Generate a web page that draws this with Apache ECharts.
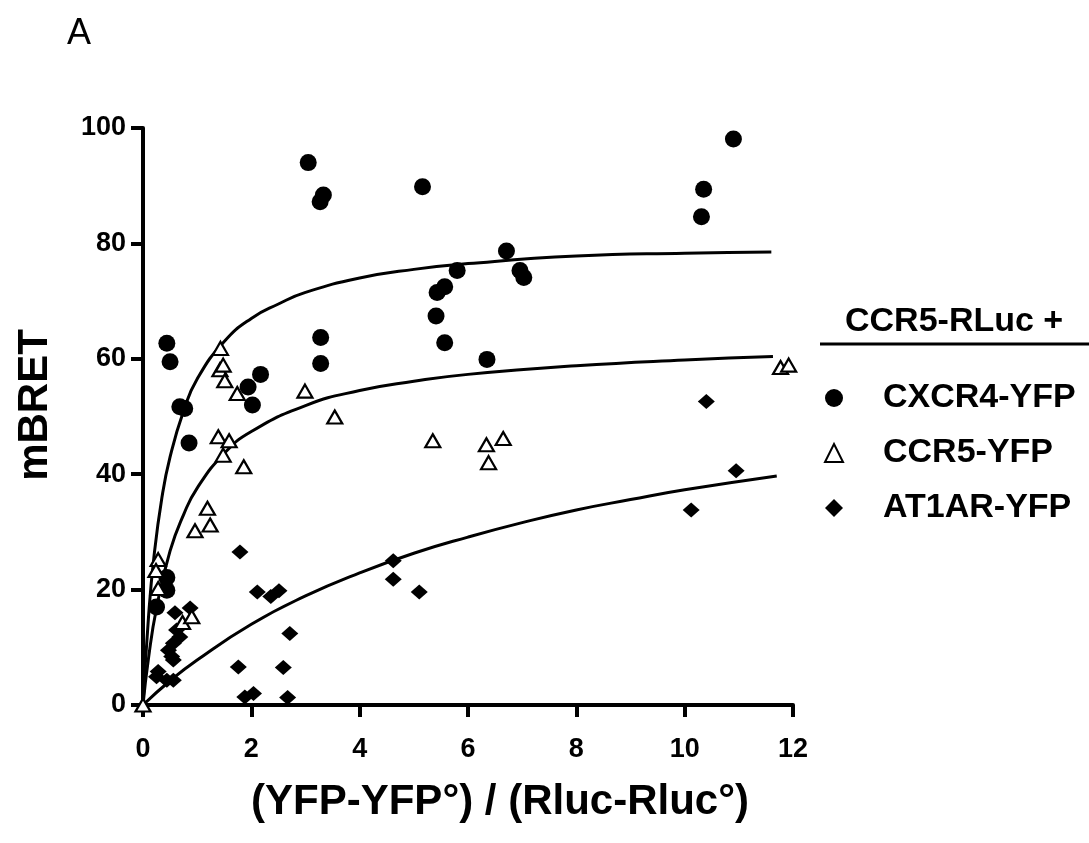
<!DOCTYPE html>
<html>
<head>
<meta charset="utf-8">
<title>BRET saturation</title>
<script src="https://cdn.jsdelivr.net/npm/echarts@6/dist/echarts.min.js"></script>
<style>
  html, body { margin: 0; padding: 0; background: #fff; }
  #chart { width: 1089px; height: 843px; }
</style>
</head>
<body>
<div id="chart"></div>
<script>
// 数据点 [x, mBRET]
const cxcr4Points = [
  [0.25, 17.0], [0.44, 19.9], [0.44, 22.1], [0.44, 62.7], [0.50, 59.5],
  [0.68, 51.7], [0.77, 51.4], [0.85, 45.4], [1.94, 55.1], [2.02, 52.0],
  [2.17, 57.3], [3.05, 94.0], [3.28, 63.7], [3.28, 59.2], [3.27, 87.2],
  [3.33, 88.4], [5.16, 89.8], [5.41, 67.4], [5.43, 71.5], [5.57, 72.5],
  [5.57, 62.8], [5.80, 75.3], [6.35, 59.9], [6.71, 78.7], [6.96, 75.3],
  [7.03, 74.1], [10.31, 84.6], [10.35, 89.4], [10.90, 98.1]
]
const ccr5Points = [
  [0, 0], [0.28, 25.2], [0.24, 23.3], [0.28, 20.2], [0.73, 14.3],
  [0.90, 15.3], [0.96, 30.2], [1.19, 34.1], [1.24, 31.2], [1.39, 46.5],
  [1.43, 61.8], [1.42, 58.1], [1.48, 58.9], [1.48, 43.3], [1.51, 56.2],
  [1.59, 45.8], [1.74, 54.0], [1.86, 41.3], [2.99, 54.4], [3.54, 49.9],
  [5.35, 45.8], [6.34, 45.1], [6.38, 42.0], [6.65, 46.2], [11.77, 58.5],
  [11.92, 58.9]
]
const at1arPoints = [
  [0.28, 5.8], [0.25, 4.9], [0.44, 4.3], [0.56, 4.3], [0.47, 9.5],
  [0.53, 8.4], [0.56, 7.8], [0.56, 10.7], [0.62, 13.0], [0.68, 11.8],
  [0.59, 16.0], [0.87, 16.8], [1.76, 6.6], [1.79, 26.5], [1.88, 1.4],
  [2.04, 2.0], [2.11, 19.6], [2.36, 18.8], [2.51, 19.8], [2.59, 6.5],
  [2.67, 1.3], [2.71, 12.4], [4.62, 25.0], [4.62, 21.8], [5.10, 19.6],
  [10.12, 33.8], [10.40, 52.6], [10.95, 40.6]
]

// 拟合曲线
const cxcr4Curve = [
  [0, 0], [0.1, 15], [0.2, 25.5], [0.35, 36], [0.5, 43], [0.75, 51],
  [1, 56.5], [1.5, 63], [2, 67], [2.5, 69.5], [3, 71.5], [4, 74],
  [5, 75.5], [6, 76.5], [8, 77.8], [10, 78.3], [11.6, 78.5]
]
const ccr5Curve = [
  [0, 0], [0.1, 8], [0.25, 16.8], [0.5, 26.7], [0.75, 33], [1, 37.6],
  [1.5, 43.6], [2, 47.4], [3, 51.9], [4, 54.5], [5, 56.1], [6, 57.3],
  [8, 58.8], [10, 59.8], [11.63, 60.4]
]
const at1arCurve = [
  [0, 0], [0.5, 4.2], [1, 7.8], [2, 14], [3, 18.9], [4, 22.9], [5, 26.3],
  [6, 29.1], [7, 31.6], [8, 33.8], [9, 35.6], [10, 37.3], [11.7, 39.7]
]

const seriesNames = ['CXCR4-YFP', 'CCR5-YFP', 'AT1AR-YFP']
const legendTitle = 'CCR5-RLuc +'
const xTitle = '(YFP-YFP°) / (Rluc-Rluc°)'
const yTitle = 'mBRET'

const FONT = '"Liberation Sans", Arial, sans-serif'

const chart = echarts.init(document.getElementById('chart'))

const curveSeries = (data) => ({
  type: 'line',
  data: data,
  smooth: true,
  showSymbol: false,
  silent: true,
  lineStyle: { color: '#000', width: 3 },
  z: 3
})

chart.setOption({
  animation: false,
  backgroundColor: '#fff',
  textStyle: { fontFamily: FONT, color: '#000' },
  title: {
    text: 'A',
    left: 62,
    top: 11,
    textStyle: { fontFamily: FONT, fontSize: 36, fontWeight: 'normal', color: '#000' }
  },
  grid: { left: 143, top: 128, width: 650, height: 577 },
  xAxis: {
    type: 'value',
    min: 0,
    max: 12,
    interval: 2,
    name: xTitle,
    nameLocation: 'middle',
    nameGap: 76,
    nameTextStyle: {
      fontFamily: FONT, fontSize: 42, fontWeight: 'bold', color: '#000',
      padding: [0, 0, 0, 64]
    },
    splitLine: { show: false },
    axisLine: { onZero: false, lineStyle: { color: '#000', width: 4 } },
    axisTick: { length: 12, lineStyle: { color: '#000', width: 4 } },
    axisLabel: { margin: 31, fontSize: 27, fontWeight: 'bold', color: '#000', fontFamily: FONT }
  },
  yAxis: {
    type: 'value',
    min: 0,
    max: 100,
    interval: 20,
    name: yTitle,
    nameLocation: 'middle',
    nameGap: 87,
    nameTextStyle: {
      fontFamily: FONT, fontSize: 42, fontWeight: 'bold', color: '#000',
      padding: [0, 0, 0, 23]
    },
    splitLine: { show: false },
    axisLine: { show: true, onZero: false, lineStyle: { color: '#000', width: 4 } },
    axisTick: { show: true, length: 12, lineStyle: { color: '#000', width: 4 } },
    axisLabel: { margin: 17, fontSize: 27, fontWeight: 'bold', color: '#000', fontFamily: FONT }
  },
  legend: {
    data: seriesNames,
    orient: 'vertical',
    left: 819,
    top: 376,
    itemWidth: 18,
    itemHeight: 18,
    itemGap: 21,
    textStyle: {
      fontFamily: FONT, fontSize: 34, fontWeight: 'bold', color: '#000',
      padding: [0, 0, 0, 35]
    }
  },
  graphic: [
    {
      type: 'text',
      left: 845,
      top: 305,
      style: { text: legendTitle, font: 'bold 34px ' + FONT, fill: '#000' }
    },
    {
      type: 'line',
      shape: { x1: 820, y1: 344, x2: 1089, y2: 344 },
      style: { stroke: '#000', lineWidth: 3 }
    }
  ],
  series: [
    curveSeries(cxcr4Curve),
    curveSeries(ccr5Curve),
    curveSeries(at1arCurve),
    {
      name: seriesNames[0],
      type: 'scatter',
      data: cxcr4Points,
      symbol: 'circle',
      symbolSize: 17,
      itemStyle: { color: '#000', opacity: 1 },
      z: 4
    },
    {
      name: seriesNames[2],
      type: 'scatter',
      data: at1arPoints,
      symbol: 'diamond',
      symbolSize: [17, 15],
      itemStyle: { color: '#000', opacity: 1 },
      z: 5
    },
    {
      name: seriesNames[1],
      type: 'scatter',
      data: ccr5Points,
      symbol: 'triangle',
      symbolSize: [15, 13],
      itemStyle: { color: '#fff', borderColor: '#000', borderWidth: 2.2, opacity: 1 },
      z: 6
    }
  ]
})
</script>
</body>
</html>
